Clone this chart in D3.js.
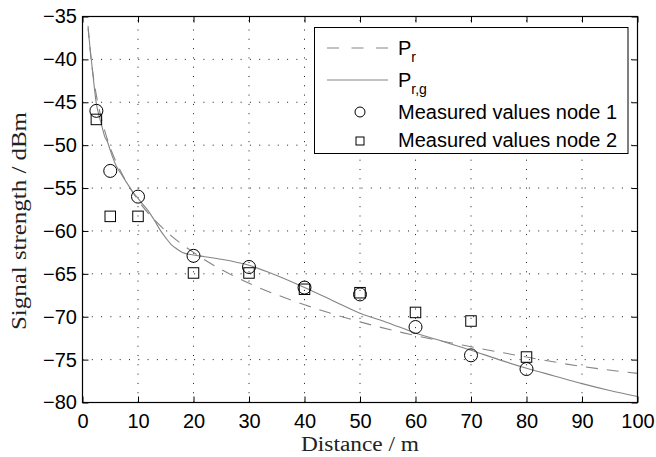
<!DOCTYPE html>
<html><head><meta charset="utf-8">
<script src="https://cdn.jsdelivr.net/npm/d3@7"></script>
<style>body{margin:0;background:#fff}svg{display:block}</style>
</head><body>
<svg id="chart" width="656" height="457"></svg>
<script>
// ---- data ----
const xTicks = [0,10,20,30,40,50,60,70,80,90,100];
const yTicks = [-35,-40,-45,-50,-55,-60,-65,-70,-75,-80];
const measDist = [2.5,5,10,20,30,40,50,60,70,80];
const node1 = [-46.0,-53.0,-56.0,-62.9,-64.2,-66.6,-67.4,-71.2,-74.5,-76.1];
const node2 = [-47.0,-58.3,-58.3,-64.9,-64.9,-66.8,-67.2,-69.5,-70.5,-74.7];
const prDist = [1,1.5,2,2.5,3,4,5,7,10,15,20,25,30,40,50,60,70,80,90,100];
const prVal  = [-36.1,-39.7,-42.2,-44.2,-45.8,-48.3,-50.3,-53.2,-56.4,-60.0,-62.5,-64.5,-66.1,-68.6,-70.6,-72.2,-73.5,-74.7,-75.8,-76.6];
const prgDist = [1,1.5,2,2.5,3,3.5,4,4.5,5,6,7,8,9,10,11,12,13,14,15,16,17,18,20,22,25,30,35,40,45,50,55,60,65,70,75,80,85,90,95,100];
const prgVal  = [-36.4,-39.5,-42.5,-45.2,-46.6,-47.8,-49.0,-49.6,-50.6,-52.3,-53.4,-54.4,-55.4,-56.2,-57.0,-57.8,-58.8,-59.9,-60.8,-61.6,-62.1,-62.5,-62.8,-63.0,-63.3,-64.0,-65.2,-66.6,-68.1,-69.6,-70.7,-71.9,-72.9,-73.9,-75.0,-76.0,-76.9,-77.8,-78.6,-79.3];
const legendLabels = ["P", "P", "Measured values node 1", "Measured values node 2"];
const legendSubs = ["r", "r,g", "", ""];
const xLabel = "Distance / m";
const yLabel = "Signal strength / dBm";

// ---- layout ----
const L = 82.5, R = 637.5, T = 16.5, B = 402.5;
const svg = d3.select("#chart");
const sans = "'Liberation Sans', Arial, Helvetica, sans-serif";
const serif = "'Liberation Serif','DejaVu Serif',serif";
const x = d3.scaleLinear().domain([0,100]).range([L,R]);
const y = d3.scaleLinear().domain([-80,-35]).range([B,T]);
const lineGray = "#858585";

// grid
const grid = svg.append("g").attr("stroke","#000").attr("stroke-width",0.9).attr("stroke-dasharray","1,8.3");
grid.selectAll(".gx").data(xTicks.slice(1,-1)).enter().append("line")
  .attr("x1",d=>x(d)).attr("x2",d=>x(d)).attr("y1",B).attr("y2",T);
grid.selectAll(".gy").data(yTicks.slice(1,-1)).enter().append("line")
  .attr("y1",d=>y(d)).attr("y2",d=>y(d)).attr("x1",L).attr("x2",R);

// curves
svg.append("clipPath").attr("id","clip").append("rect")
  .attr("x",L).attr("y",T).attr("width",R-L).attr("height",B-T);
const plot = svg.append("g").attr("clip-path","url(#clip)");
const line = d3.line().x(d=>x(d[0])).y(d=>y(d[1])).curve(d3.curveMonotoneX);
plot.append("path").datum(prDist.map((d,i)=>[d,prVal[i]]))
  .attr("d",line).attr("fill","none").attr("stroke",lineGray).attr("stroke-width",1.1)
  .attr("stroke-dasharray","12,9");
plot.append("path").datum(prgDist.map((d,i)=>[d,prgVal[i]]))
  .attr("d",line).attr("fill","none").attr("stroke",lineGray).attr("stroke-width",1.1);

// markers
svg.append("g").selectAll("circle").data(measDist.map((d,i)=>[d,node1[i]])).enter()
  .append("circle").attr("cx",d=>x(d[0])).attr("cy",d=>y(d[1])).attr("r",6.5)
  .attr("fill","none").attr("stroke","#000").attr("stroke-width",1);
const sq = 10.5;
svg.append("g").selectAll("rect").data(measDist.map((d,i)=>[d,node2[i]])).enter()
  .append("rect").attr("x",d=>x(d[0])-sq/2).attr("y",d=>y(d[1])-sq/2)
  .attr("width",sq).attr("height",sq)
  .attr("fill","none").attr("stroke","#000").attr("stroke-width",1);

// axes
const tick = 6;
const fmt = d3.format("d");
const gB = svg.append("g").attr("transform",`translate(0,${B})`)
  .call(d3.axisBottom(x).tickValues(xTicks).tickFormat(fmt).tickSizeInner(-tick).tickSizeOuter(0).tickPadding(11));
const gL = svg.append("g").attr("transform",`translate(${L},0)`)
  .call(d3.axisLeft(y).tickValues(yTicks).tickFormat(fmt).tickSizeInner(-tick).tickSizeOuter(0).tickPadding(5.5));
const gT = svg.append("g").attr("transform",`translate(0,${T})`)
  .call(d3.axisTop(x).tickValues(xTicks).tickFormat("").tickSizeInner(-tick).tickSizeOuter(0));
const gR = svg.append("g").attr("transform",`translate(${R},0)`)
  .call(d3.axisRight(y).tickValues(yTicks).tickFormat("").tickSizeInner(-tick).tickSizeOuter(0));
[gB,gL,gT,gR].forEach(g=>{
  g.select(".domain").remove();
  g.selectAll("line").attr("stroke","#000").attr("stroke-width",1);
  g.selectAll("text").attr("font-family",sans).attr("font-size",20).attr("fill","#000");
});
gL.selectAll("text").text(d=>fmt(d).replace("-","\u2212"));
svg.append("rect").attr("x",L).attr("y",T).attr("width",R-L).attr("height",B-T)
  .attr("fill","none").attr("stroke","#000").attr("stroke-width",1.2);

// axis labels
svg.append("text").attr("x",(L+R)/2).attr("y",451).attr("text-anchor","middle")
  .attr("font-family",serif).attr("font-size",20).attr("font-weight","normal").attr("fill","#222")
  .attr("textLength",118).attr("lengthAdjust","spacingAndGlyphs")
  .text(xLabel);
svg.append("text").attr("transform","translate(26,221) rotate(-90)").attr("text-anchor","middle")
  .attr("font-family",serif).attr("font-size",20).attr("font-weight","normal").attr("fill","#222")
  .attr("textLength",218).attr("lengthAdjust","spacingAndGlyphs")
  .text(yLabel);

// legend
const lg = svg.append("g");
lg.append("rect").attr("x",314.5).attr("y",27.5).attr("width",313.5).attr("height",126)
  .attr("fill","#fff").attr("stroke","#000").attr("stroke-width",1);
const rowsY = [48, 80, 112, 141];
const baseY = [54.5, 86.5, 118.5, 147];
lg.append("line").attr("x1",327).attr("x2",388).attr("y1",rowsY[0]).attr("y2",rowsY[0])
  .attr("stroke",lineGray).attr("stroke-width",1.1).attr("stroke-dasharray","12,12.5");
lg.append("line").attr("x1",327).attr("x2",388).attr("y1",rowsY[1]).attr("y2",rowsY[1])
  .attr("stroke",lineGray).attr("stroke-width",1.1);
lg.append("circle").attr("cx",360).attr("cy",rowsY[2]).attr("r",5)
  .attr("fill","none").attr("stroke","#000").attr("stroke-width",1);
lg.append("rect").attr("x",356).attr("y",rowsY[3]-4).attr("width",8).attr("height",8)
  .attr("fill","none").attr("stroke","#000").attr("stroke-width",1);
legendLabels.forEach((t,i)=>{
  const tx = lg.append("text").attr("x",398).attr("y",baseY[i])
    .attr("font-family",sans).attr("font-size",20).attr("fill","#000").text(t);
  if (legendSubs[i]) {
    tx.append("tspan").attr("dy",7).attr("font-size",14).text(legendSubs[i]);
  }
});
</script>
</body></html>
